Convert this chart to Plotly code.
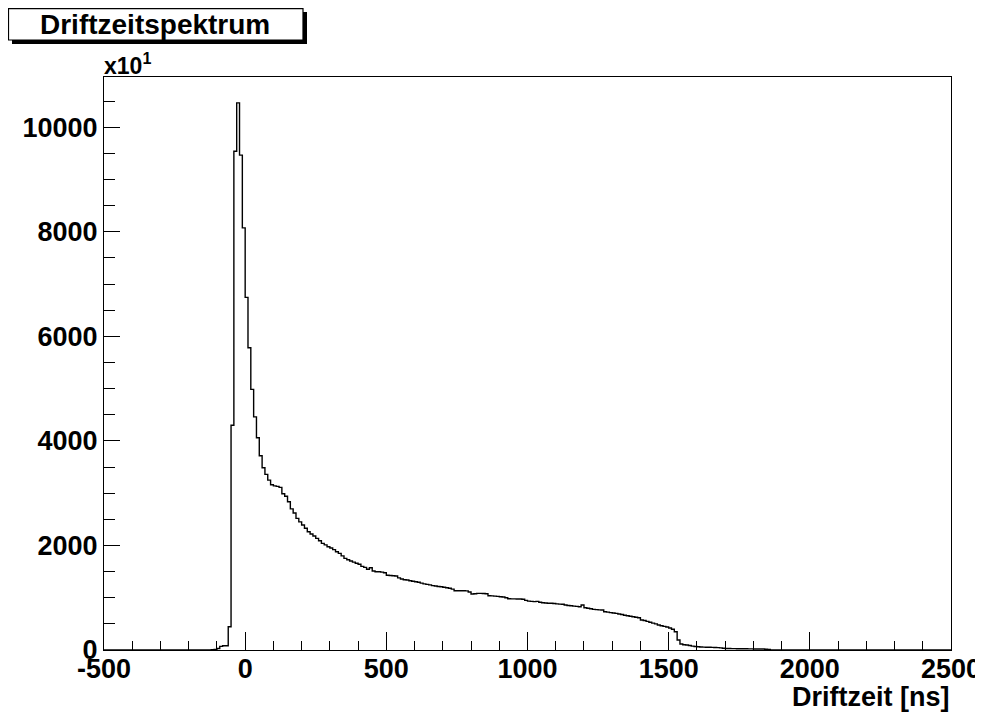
import numpy as np
import plotly.graph_objects as go

# ---------------- data (displayed units, x10^1 counts) ----------------
bin_width = 10          # ns
x_min, x_max = -500, 2500
first_bin = -120        # left edge of first listed bin
counts = [
    5, 10, 30, 70, 80, 80, 445, 4300, 9540, 10465,              # -120 .. -30
    9465, 8075, 6745, 5780, 4985, 4460, 4060, 3715, 3485, 3360,  # -20 .. 70
    3250, 3160, 3140, 3130, 3110, 2990, 2940, 2835, 2700, 2620,  # 80 .. 170
    2518, 2450, 2390, 2330, 2262, 2220, 2180, 2136, 2090, 2040,  # 180 .. 270
    2010, 1975, 1950, 1920, 1880, 1849, 1800, 1753, 1725, 1702,  # 280 .. 370
    1680, 1658, 1640, 1600, 1580, 1545, 1574, 1510, 1497, 1497,  # 380 .. 470
    1490, 1478, 1430, 1425, 1420, 1415, 1380, 1358, 1345, 1338,  # 480 .. 570
    1325, 1315, 1306, 1295, 1280, 1265, 1256, 1245, 1232, 1225,  # 580 .. 670
    1215, 1210, 1200, 1190, 1180, 1165, 1134, 1134, 1134, 1134,  # 680 .. 770
    1130, 1110, 1071, 1075, 1084, 1084, 1080, 1075, 1038, 1035,  # 780 .. 870
    1030, 1025, 1019, 1015, 1000, 981, 978, 977, 975, 975,       # 880 .. 970
    970, 950, 935, 930, 925, 930, 912, 905, 900, 895,            # 980 .. 1070
    893, 888, 882, 878, 874, 860, 850, 847, 840, 835,            # 1080 .. 1170
    828, 860, 809, 800, 790, 778, 772, 768, 765, 732,            # 1180 .. 1270
    725, 715, 708, 701, 690, 678, 666, 656, 645, 635,            # 1280 .. 1370
    625, 618, 574, 565, 548, 530, 515, 500, 478, 465,            # 1380 .. 1470
    452, 440, 420, 396, 350, 191, 115, 100, 96, 85,              # 1480 .. 1570
    75, 68, 63, 58, 55, 52, 52, 50, 48, 45,                      # 1580 .. 1670
    40, 33, 30, 28, 27, 26, 25, 25, 24, 24,                      # 1680 .. 1770
    22, 22, 20, 20, 18, 18, 15, 12,                              # 1780 .. 1850
]
x_tick_vals = [-500, 0, 500, 1000, 1500, 2000, 2500]
x_tick_labels = ["-500", "0", "500", "1000", "1500", "2000", "2500"]
y_tick_vals = [0, 2000, 4000, 6000, 8000, 10000]
y_tick_labels = ["0", "2000", "4000", "6000", "8000", "10000"]
title_text = "Driftzeitspektrum"
x_title = "Driftzeit [ns]"
y_multiplier = "x10<sup>1</sup>"

# ---------------- histogram arrays ----------------
edges = np.arange(x_min, x_max + bin_width, bin_width)
n_bins = len(edges) - 1
values = np.zeros(n_bins)
i0 = (first_bin - x_min) // bin_width
values[i0:i0 + len(counts)] = counts
xs = edges
ys = np.append(values, values[-1])

# ---------------- figure ----------------
OFF = 8                      # page body margin
W, H = 983 - OFF, 713 - OFF
L, R, T, B = 104 - OFF, 32, 77 - OFF, 63
pw, ph = W - L - R, H - T - B


def px(x):                   # screen pixel -> paper fraction
    return (x - OFF - L) / pw


def py(y):
    return (H - B - (y - OFF)) / ph


FONT = "Liberation Sans, Arial, Helvetica, sans-serif"

fig = go.Figure()
fig.add_trace(go.Scatter(
    x=xs, y=ys, mode="lines", line=dict(shape="hv", color="black", width=1.4),
    hoverinfo="skip", showlegend=False,
))

fig.update_layout(
    width=W, height=H, autosize=False,
    margin=dict(l=L, r=R, t=T, b=B, pad=0),
    paper_bgcolor="white", plot_bgcolor="white",
    showlegend=False,
    xaxis=dict(
        range=[x_min, x_max], tickmode="array", tickvals=x_tick_vals, ticktext=x_tick_labels,
        ticks="inside", ticklen=18, tickwidth=1, tickcolor="black",
        minor=dict(tick0=x_min, dtick=100, ticks="inside", ticklen=9, tickcolor="black", tickwidth=1, showgrid=False),
        showline=True, linecolor="black", linewidth=1, mirror=True,
        showgrid=False, zeroline=False, automargin=False,
        ticklabelstandoff=-5,
        tickfont=dict(family=FONT, size=27, color="black", weight="bold"),
    ),
    yaxis=dict(
        range=[0, 10960], tickmode="array", tickvals=y_tick_vals, ticktext=y_tick_labels,
        ticks="inside", ticklen=16, tickwidth=1, tickcolor="black",
        minor=dict(tick0=0, dtick=500, ticks="inside", ticklen=11, tickcolor="black", tickwidth=1, showgrid=False),
        showline=True, linecolor="black", linewidth=1, mirror=True,
        showgrid=False, zeroline=False, automargin=False,
        tickfont=dict(family=FONT, size=27, color="black", weight="bold"),
    ),
)

# title box with shadow
fig.add_shape(type="rect", xref="paper", yref="paper",
              x0=px(12), x1=px(307), y0=py(44), y1=py(12),
              fillcolor="black", line=dict(width=0), layer="above")
fig.add_shape(type="rect", xref="paper", yref="paper",
              x0=px(8.5), x1=px(303), y0=py(40), y1=py(8.7),
              fillcolor="white", line=dict(color="black", width=1.2), layer="above")
fig.add_annotation(xref="paper", yref="paper", x=px(155), y=py(25),
                   text="<b>%s</b>" % title_text, showarrow=False,
                   xanchor="center", yanchor="middle",
                   font=dict(family=FONT, size=28, color="black"))
fig.add_annotation(xref="paper", yref="paper", x=px(102), y=py(64),
                   text="<b>%s</b>" % y_multiplier, showarrow=False,
                   xanchor="left", yanchor="middle",
                   font=dict(family=FONT, size=23, color="black"))
fig.add_annotation(xref="paper", yref="paper", x=px(952), y=py(697),
                   text="<b>%s</b>" % x_title, showarrow=False,
                   xanchor="right", yanchor="middle",
                   font=dict(family=FONT, size=27, color="black"))

fig.write_html("out.html")
